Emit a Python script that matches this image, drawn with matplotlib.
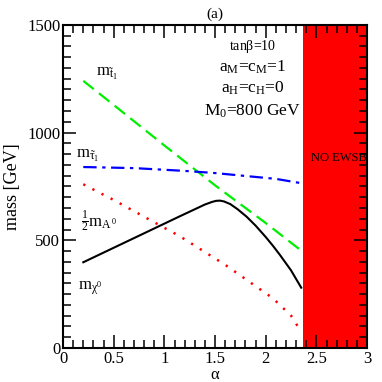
import numpy as np
import matplotlib
matplotlib.use('Agg')
import matplotlib.pyplot as plt
from matplotlib.ticker import MultipleLocator

plt.rcParams['font.family'] = ['Liberation Serif', 'DejaVu Serif']
plt.rcParams['mathtext.fontset'] = 'custom'
plt.rcParams['mathtext.rm'] = 'Liberation Serif'
plt.rcParams['mathtext.it'] = 'Liberation Serif'
plt.rcParams['mathtext.bf'] = 'Liberation Serif:bold'

# curves (alpha -> mass in GeV)
alpha_stop = [0.2, 0.5, 1.0, 1.5, 2.0, 2.35]
m_stop = [1240, 1128, 940, 755, 580, 452]

alpha_stau = [0.2, 0.7, 1.2, 1.5, 1.81, 2.1, 2.35]
m_stau = [840, 835, 822, 812, 798, 785, 765]

alpha_a0 = [0.2, 0.33, 0.5, 0.96, 1.155, 1.6, 2.07, 2.25, 2.35]
m_a0_half = [760, 728, 687, 568, 518, 386, 231, 150, 75]

alpha_chi = [0.2, 1.155, 1.4, 1.47, 1.51, 1.55, 1.59, 1.65, 1.72, 1.81,
             1.9, 2.0, 2.07, 2.14, 2.25, 2.35]
m_chi = [398, 612, 666, 678, 683, 684, 680, 668, 645, 610,
         568, 515, 475, 432, 360, 280]

no_ewsb = (2.37, 3.0)

fig = plt.figure(figsize=(3.82, 3.82), dpi=100)
ax = fig.add_axes([0.165, 0.089, 0.796, 0.846])

ax.axvspan(no_ewsb[0], no_ewsb[1], color='#ff0000', lw=0, zorder=0)

ax.plot(alpha_stop, m_stop, color='#00ee00', lw=1.6, dashes=(6, 3))
ax.plot(alpha_stau, m_stau, color='#0000ff', lw=1.6, dashes=(6, 2.5, 1.5, 2.5))
ax.plot(alpha_a0, m_a0_half, color='#ff0000', lw=1.8, dashes=(0.9, 3.2))
ax.plot(alpha_chi, m_chi, color='black', lw=1.5)

ax.set_xlim(0, 3)
ax.set_ylim(0, 1500)
ax.xaxis.set_major_locator(MultipleLocator(0.5))
ax.xaxis.set_minor_locator(MultipleLocator(0.1))
ax.yaxis.set_major_locator(MultipleLocator(500))
ax.yaxis.set_minor_locator(MultipleLocator(50))
ax.set_xticks([0, 0.5, 1, 1.5, 2, 2.5, 3])
ax.set_xticklabels(['0', '0.5', '1', '1.5', '2', '2.5', '3'])
ax.tick_params(which='both', direction='in', top=True, right=True, width=1.1,
               labelsize=12, colors='black')
ax.tick_params(which='major', length=9.5, pad=2)
ax.tick_params(which='minor', length=5.5)
for s in ax.spines.values():
    s.set_linewidth(1.5)
    s.set_zorder(5)

ax.set_xlabel(r'$\alpha$', fontsize=12, labelpad=0)
ax.set_ylabel('mass [GeV]', fontsize=13, labelpad=4)
ax.set_title('(a)', fontsize=11, pad=5)

ax.text(0.33, 1265, r'$\mathrm{m}_{\tilde{t}_1}$', fontsize=12)
ax.text(0.13, 880, r'$\mathrm{m}_{\tilde{\tau}_1}$', fontsize=12)
ax.text(0.18, 560, r'$\frac{1}{2}\mathrm{m}_{A^0}$', fontsize=12)
ax.text(0.15, 270, r'$\mathrm{m}_{\chi^0}$', fontsize=12)

ax.text(1.87, 1400, r'tan$\beta$=10', fontsize=10, ha='center', va='center')
ax.text(1.87, 1305, r'a$_\mathrm{M}$=c$_\mathrm{M}$=1', fontsize=12.5, ha='center', va='center')
ax.text(1.87, 1205, r'a$_\mathrm{H}$=c$_\mathrm{H}$=0', fontsize=12.5, ha='center', va='center')
ax.text(1.87, 1100, r'M$_0$=800 GeV', fontsize=12.5, ha='center', va='center')
ax.text(2.72, 880, 'NO EWSB', fontsize=9, ha='center', va='center')

fig.savefig('out.png', dpi=100)
